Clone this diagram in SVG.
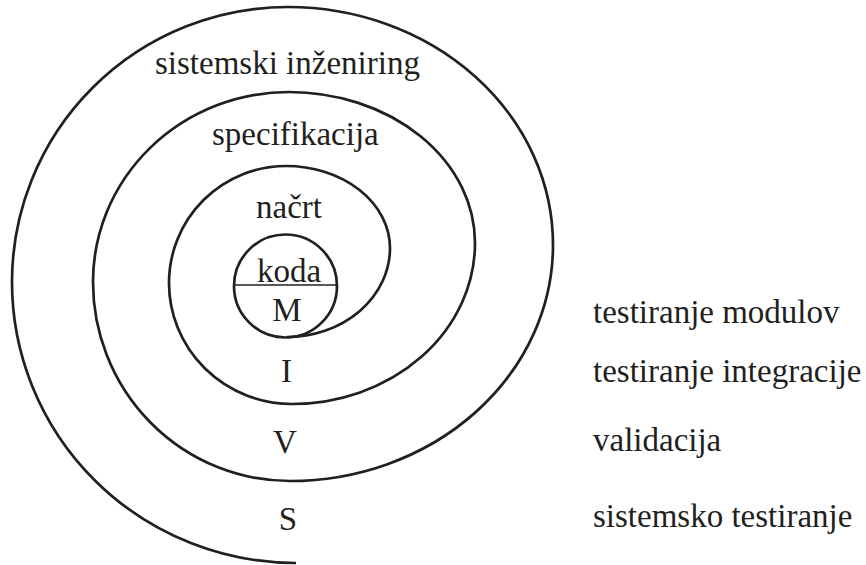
<svg xmlns="http://www.w3.org/2000/svg" width="866" height="565" viewBox="0 0 866 565">
  <style>
    .line { fill: none; stroke: #231f20; stroke-width: 2.7; }
    .thin { fill: none; stroke: #231f20; stroke-width: 1.4; }
    text { font-family: "Liberation Serif", "Times New Roman", serif; font-size: 33px; fill: #231f20; }
    .mid { text-anchor: middle; }
  </style>
  <rect width="866" height="565" fill="#ffffff"/>

  <!-- spiral, built from quarter-ellipse arcs, winding outward from the core circle -->
  <g id="connectors">
    <path class="line" d="M287,337 A103,89 0 0 0 390,248 A104,82 0 0 0 286,166 A117,117 0 0 0 169,283 A123,121 0 0 0 292,404 A183,161 0 0 0 475,243 A186,151 0 0 0 289,92 A196,190 0 0 0 93,282 A197,199 0 0 0 290,481 A263,236 0 0 0 553,245 A265,238 0 0 0 288,7 A276,275 0 0 0 12,282 A284,281 0 0 0 296,563"/>
  </g>

  <g id="core">
    <circle class="line" cx="285.5" cy="286" r="51.5"/>
    <line class="thin" x1="234" y1="285" x2="337" y2="285"/>
    <text x="257" y="282">koda</text>
    <text class="mid" x="287" y="321">M</text>
  </g>

  <g id="phase-sistemski-inzeniring">
    <text x="155" y="74">sistemski inženiring</text>
  </g>
  <g id="phase-specifikacija">
    <text x="212" y="145">specifikacija</text>
  </g>
  <g id="phase-nacrt">
    <text x="256" y="218">načrt</text>
  </g>

  <g id="test-I">
    <text class="mid" x="286.5" y="382">I</text>
  </g>
  <g id="test-V">
    <text class="mid" x="285" y="453">V</text>
  </g>
  <g id="test-S">
    <text class="mid" x="288" y="530">S</text>
  </g>

  <g id="legend">
    <text x="593" y="323">testiranje modulov</text>
    <text x="593" y="382">testiranje integracije</text>
    <text x="593" y="451">validacija</text>
    <text x="593" y="527">sistemsko testiranje</text>
  </g>
</svg>
